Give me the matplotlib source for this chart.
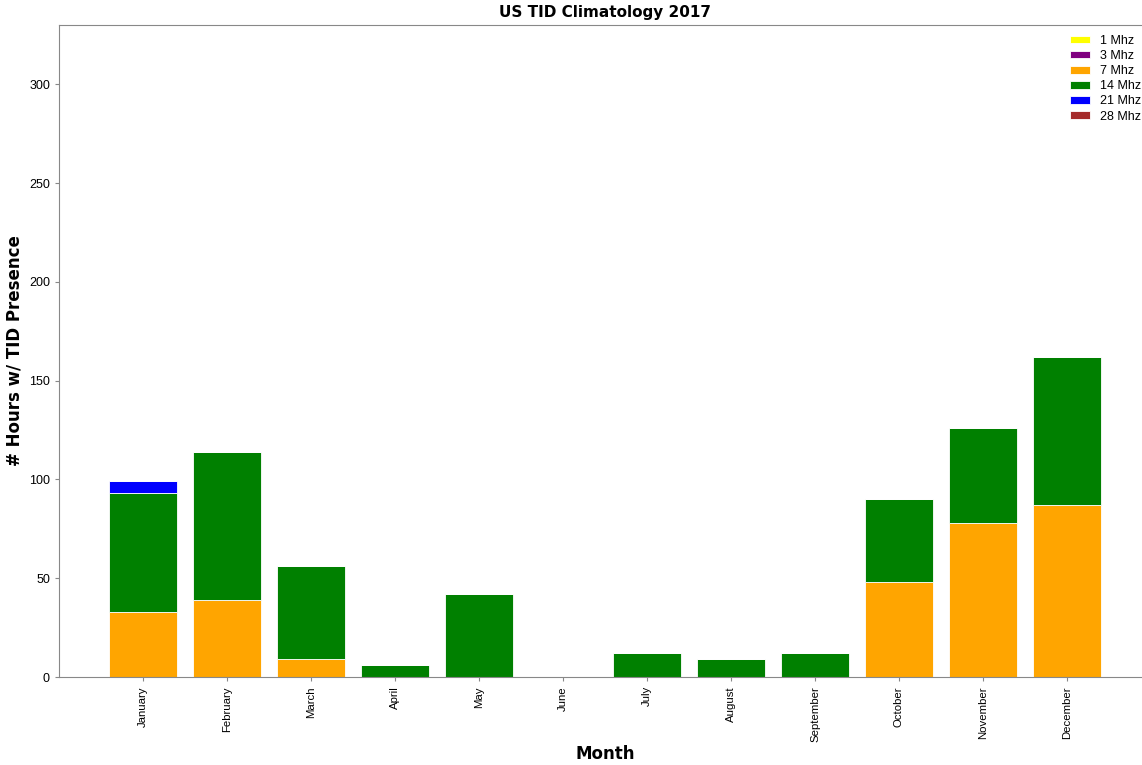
import numpy as np
import matplotlib
matplotlib.use("Agg")
import matplotlib.pyplot as plt

months = ["January", "February", "March", "April", "May", "June",
          "July", "August", "September", "October", "November", "December"]

# hours with TID presence per frequency band
hours_1mhz = [0, 0, 0, 0, 0, 0, 0, 0, 0, 0, 0, 0]
hours_3mhz = [0, 0, 0, 0, 0, 0, 0, 0, 0, 0, 0, 0]
hours_7mhz = [33, 39, 9, 0, 0, 0, 0, 0, 0, 48, 78, 87]
hours_14mhz = [60, 75, 47, 6, 42, 0, 12, 9, 12, 42, 48, 75]
hours_21mhz = [6, 0, 0, 0, 0, 0, 0, 0, 0, 0, 0, 0]
hours_28mhz = [0, 0, 0, 0, 0, 0, 0, 0, 0, 0, 0, 0]

bands = [("1 Mhz", hours_1mhz, "yellow"),
         ("3 Mhz", hours_3mhz, "purple"),
         ("7 Mhz", hours_7mhz, "orange"),
         ("14 Mhz", hours_14mhz, "green"),
         ("21 Mhz", hours_21mhz, "blue"),
         ("28 Mhz", hours_28mhz, "brown")]

fig = plt.figure(figsize=(11.42, 7.65), dpi=100)
ax = fig.add_axes([59 / 1142, 88 / 765, 1092 / 1142, 652 / 765])

x = np.arange(len(months))
bottom = np.zeros(len(months))
for label, vals, color in bands:
    vals = np.asarray(vals, dtype=float)
    ax.bar(x, vals, width=0.8, bottom=bottom, color=color, label=label,
           edgecolor="white", linewidth=0.6)
    bottom += vals

ax.set_xlim(-1, 12)
ax.set_ylim(0, 330)
ax.set_xticks(x)
ax.set_xticklabels(months, rotation=90, fontsize=8.2, family="Liberation Sans")
for t in ax.get_yticklabels():
    t.set_family("Liberation Sans")
ax.tick_params(axis="y", labelsize=9)
ax.tick_params(length=3, color="#888888")
for side in ("left", "bottom", "top", "right"):
    ax.spines[side].set_color("#888888")

ax.set_title("US TID Climatology 2017", fontsize=11, fontweight="bold")
ax.set_xlabel("Month", fontsize=12, fontweight="bold", va="center")
ax.xaxis.set_label_coords(0.5, -0.118)
ax.set_ylabel("# Hours w/ TID Presence", fontsize=12, fontweight="bold")

ax.legend(loc="upper right", frameon=False, handlelength=1.6,
          handleheight=0.55, labelspacing=0.25, borderaxespad=0.4,
          prop={"family": "Liberation Sans", "size": 9})

fig.savefig("out.png", dpi=100)
